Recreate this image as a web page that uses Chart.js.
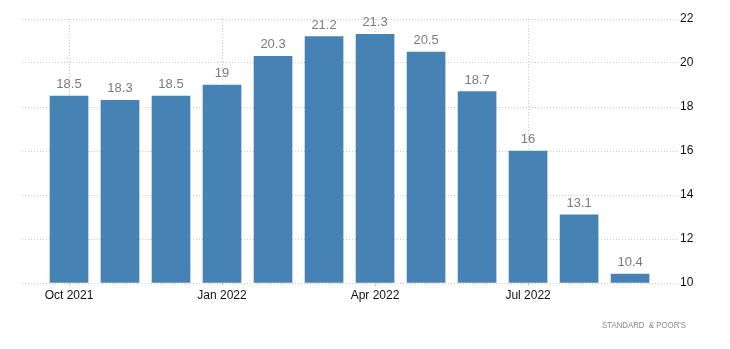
<!DOCTYPE html>
<html>
<head>
<meta charset="utf-8">
<script src="https://cdn.jsdelivr.net/npm/chart.js@4/dist/chart.umd.min.js"></script>
<style>
  html, body { margin: 0; padding: 0; background: #fff; }
  #wrap { width: 730px; height: 349px; position: relative; }
</style>
</head>
<body>
<div id="wrap"><canvas id="chart"></canvas></div>
<script>
// monthly values, Oct 2021 .. Sep 2022
const months = ['Oct 2021', 'Nov 2021', 'Dec 2021', 'Jan 2022', 'Feb 2022', 'Mar 2022',
  'Apr 2022', 'May 2022', 'Jun 2022', 'Jul 2022', 'Aug 2022', 'Sep 2022']
const values = [18.5, 18.3, 18.5, 19, 20.3, 21.2, 21.3, 20.5, 18.7, 16, 13.1, 10.4]
const labelIdx = [0, 3, 6, 9]
const yTicks = [10, 12, 14, 16, 18, 20, 22]

const font = "Arial, 'Liberation Sans', sans-serif"

// value above each bar
const barLabels = {
  id: 'barLabels',
  afterDatasetsDraw(chart) {
    const ctx = chart.ctx
    const meta = chart.getDatasetMeta(0)
    ctx.save()
    ctx.font = '13px ' + font
    ctx.fillStyle = '#7a7a86'
    ctx.textAlign = 'center'
    ctx.textBaseline = 'alphabetic'
    meta.data.forEach((bar, i) => {
      ctx.fillText(String(values[i]), bar.x, bar.y - 8)
    })
    ctx.restore()
  }
}

// source line bottom right
const source = {
  id: 'source',
  afterDraw(chart) {
    const ctx = chart.ctx
    ctx.save()
    ctx.font = '9px ' + font
    ctx.fillStyle = '#888'
    ctx.textAlign = 'right'
    ctx.textBaseline = 'middle'
    ctx.fillText("STANDARD  & POOR'S", 686, 326, 84)
    ctx.restore()
  }
}

new Chart(document.getElementById('chart'), {
  type: 'bar',
  data: {
    datasets: [{
      data: values.map((v, i) => ({ x: i, y: v })),
      backgroundColor: '#4682b4',
      barThickness: 38,
      base: 10
    }]
  },
  options: {
    responsive: true,
    maintainAspectRatio: false,
    animation: false,
    layout: { padding: { top: 19, left: 22 } },
    plugins: { legend: { display: false }, tooltip: { enabled: false } },
    scales: {
      x: {
        type: 'linear',
        offset: false,
        min: -0.9216,
        max: 11.92,
        afterBuildTicks(scale) {
          scale.ticks = labelIdx.map(v => ({ value: v }))
        },
        afterFit(scale) { scale.height = 66 },
        ticks: {
          callback: v => months[v],
          color: '#111',
          font: { size: 12, family: font },
          padding: 2,
          maxRotation: 0
        },
        grid: { offset: false, color: '#ccc', tickLength: 3, tickColor: '#ccc' },
        border: { display: false, dash: [1, 2] }
      },
      y: {
        position: 'right',
        min: 10,
        max: 22,
        afterBuildTicks(scale) {
          scale.ticks = yTicks.map(v => ({ value: v }))
        },
        afterFit(scale) { scale.width = 53 },
        ticks: {
          color: '#111',
          font: { size: 12, family: font },
          padding: 3
        },
        grid: { color: '#ccc', drawTicks: false },
        border: { display: false, dash: [1, 2] }
      }
    }
  },
  plugins: [barLabels, source]
})
</script>
</body>
</html>
